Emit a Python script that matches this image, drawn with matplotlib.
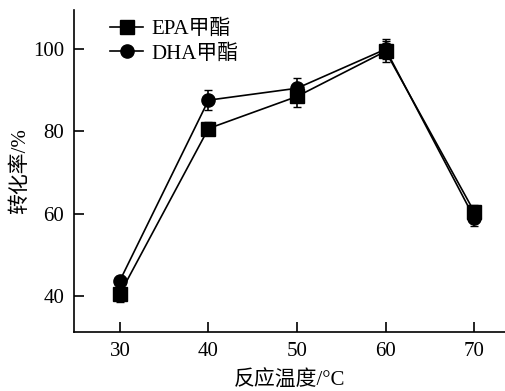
import matplotlib
matplotlib.use('Agg')
from matplotlib import pyplot as plt

plt.rcParams['font.family'] = ['Liberation Serif', 'Noto Sans CJK SC']
plt.rcParams['mathtext.fontset'] = 'stix'

# 数据
temps = [30, 40, 50, 60, 70]
epa = [40.5, 80.7, 88.5, 99.5, 60.5]
epa_err = [2.0, 1.5, 2.5, 2.5, 1.5]
dha = [43.7, 87.6, 90.5, 100.0, 59.0]
dha_err = [1.0, 2.5, 2.5, 2.5, 2.0]
names = ['EPA甲酯', 'DHA甲酯']

fig = plt.figure(figsize=(5.06, 3.91), dpi=100)
ax = fig.add_axes([0.146, 0.151, 0.854, 0.823])

ax.errorbar(temps, epa, yerr=epa_err, color='black', marker='s', markersize=9.5,
            linewidth=1.2, elinewidth=1.2, capsize=3, label=names[0])
ax.errorbar(temps, dha, yerr=dha_err, color='black', marker='o', markersize=9.5,
            linewidth=1.2, elinewidth=1.2, capsize=3, label=names[1])

ax.set_xlim(24.8, 73.6)
ax.set_ylim(31.2, 109.5)
ax.set_xticks(temps)
ax.set_yticks([40, 60, 80, 100])
ax.tick_params(direction='in', length=7, width=1.2, labelsize=15, pad=7)
for s in ['top', 'right']:
    ax.spines[s].set_visible(False)
for s in ['left', 'bottom']:
    ax.spines[s].set_linewidth(1.2)

ax.set_xlabel('反应温度/°C', fontsize=15, labelpad=7)
ax.set_ylabel('转化率/%', fontsize=15, labelpad=2)

handles, labels = ax.get_legend_handles_labels()
handles = [h[0] for h in handles]
ax.legend(handles, labels, loc='upper left', bbox_to_anchor=(0.04, 1.03),
          frameon=False, fontsize=15, handlelength=1.6, handletextpad=0.4,
          labelspacing=0.25)

plt.savefig('out.png', dpi=100)
